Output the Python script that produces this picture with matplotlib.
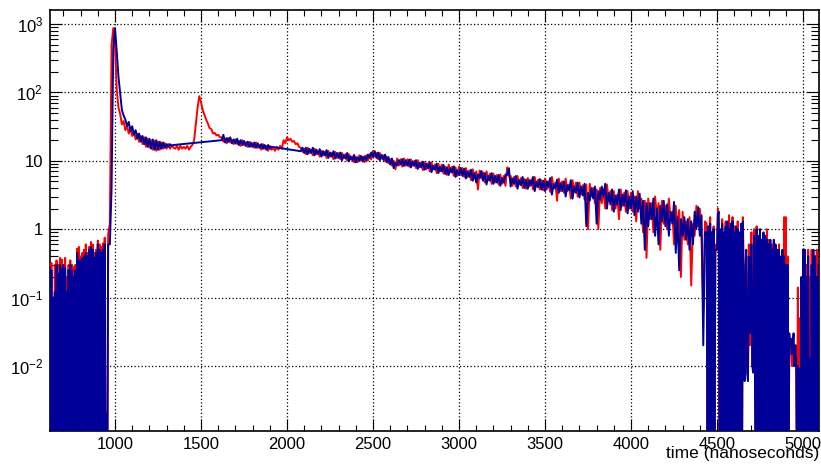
import numpy as np
import matplotlib.pyplot as plt
from matplotlib.ticker import FixedLocator, FuncFormatter, LogLocator, MultipleLocator

plt.rcParams['font.family'] = ['Liberation Sans', 'DejaVu Sans']
plt.rcParams['mathtext.fontset'] = 'custom'
plt.rcParams['mathtext.rm'] = 'Liberation Sans'
plt.rcParams['mathtext.it'] = 'Liberation Sans:italic'

# time grid of each stretch of the spectrum (ns)
pre_t = np.arange(620, 961, 5)          # sparse bins before the pulse
main_t = np.arange(970, 1341, 10)
after_t = np.arange(1350, 1611, 10)     # red only (afterpulse at 1500)
mid_t = np.arange(1620, 1901, 20)
bump_t = np.arange(1920, 2061, 20)      # red only (bump at 2000)
tail_t = np.arange(2080, 4281, 20)
late_t = np.arange(4300, 4431, 10)
end_t = np.arange(4440, 5091, 5)        # sparse bins at the end

# counts
red_pre_tops = [0.3, 0.32, 0.05, 0.3, 0.35, 0.3, 0.38, 0.36, 0.3, 0.38, 0.2, 0.3,
                0.35, 0.3, 0.28, 0.3, 0.52, 0.55, 0.4, 0.45, 0.5, 0.6, 0.45, 0.55,
                0.65, 0.6, 0.45, 0.5, 0.68, 0.6, 0.55, 0.62, 0.75, 0.002, 0.85]
blue_pre_tops = [0.28, 0.25, 0.1, 0.12, 0.3, 0.22, 0.3, 0.26, 0.3, 0.27, 0.12, 0.25,
                 0.3, 0.25, 0.2, 0.25, 0.45, 0.35, 0.35, 0.38, 0.4, 0.45, 0.4, 0.5,
                 0.55, 0.5, 0.38, 0.45, 0.6, 0.5, 0.45, 0.5, 0.6, 0.002, 0.6]

red_main = [1.2, 500, 870, 500, 110, 60, 48, 34, 38, 28,
            33, 25, 30, 23, 27, 20.5, 25, 19, 23, 17.5,
            22, 16, 21, 15.5, 20, 14.5, 19.5, 14, 19, 14.5,
            18.5, 15, 18, 15, 17.5, 15, 17, 15.5]
blue_main = [0.6, 4, 450, 870, 400, 170, 95, 55, 46, 40,
             32, 37, 27, 32, 24, 28, 21, 25, 19, 23,
             17.5, 22, 16, 21, 15, 20.5, 14.5, 20, 14.5, 19,
             15, 18.5, 15.5, 17.5, 16, 17.5, 16.5, 17]

red_after = [15, 16.5, 14.5, 16.5, 15, 16, 15, 16.5, 14.5, 16,
             17, 20, 35, 60, 88, 72, 55, 47, 40, 35,
             30, 29, 25, 25.5, 23.5, 24, 22]

red_mid_hi = [22, 21, 21.5, 20, 20.5, 19.5, 20, 18.5, 19, 18, 18.5, 17, 17.5, 16.5, 16.5]
red_mid_lo = [19, 18, 18.5, 17.5, 17.5, 16.5, 17, 16, 16, 15.5, 15.5, 14.5, 15, 14, 14.5]
blue_mid_hi = [24, 21.5, 22, 20.5, 21, 20, 19.5, 19, 18.5, 18.5, 18, 17.5, 17, 17, 16]
blue_mid_lo = [20, 18.5, 19, 18, 18, 17, 17, 16.5, 16, 16, 15.5, 15.5, 15, 14.5, 15]

red_bump_hi = [15.5, 16, 16.5, 20, 22, 21, 19.5, 18]
red_bump_lo = [14, 14.5, 15, 18, 20, 19, 17.5, 16]

red_tail_hi = [15.5,
               15, 15.5, 14.5, 15, 14,
               14, 13.5, 14, 13, 13.5,
               13, 13, 12.5, 12.5, 11.5,
               11.5, 12, 11.5, 12, 12.5,
               14, 13, 13, 12, 11.5,
               10.5, 10, 10.8, 10.5, 10.8,
               10.5, 10.5, 10, 10.2, 9.5,
               9.5, 9.2, 9.5, 8.8, 9,
               8.8, 8.2, 8.8, 8.2, 8,
               8.2, 7.8, 7.8, 7.2, 7.5,
               7, 7.2, 6.8, 7, 6.5,
               6.5, 6.2, 6.3, 6, 8,
               6, 5.8, 6, 5.6, 5.4,
               5.6, 5.3, 5.8, 5.3, 5.2,
               5.5, 5.0, 5.8, 4.8, 5.5,
               5, 5.5, 4.5, 5.2, 4.8,
               4.8, 4.4, 4.5, 4.6, 4.0,
               3.8, 4.0, 3.8, 4.5, 3.6,
               3.6, 3.2, 3.8, 3.4, 3.6,
               3.4, 3.0, 3.6, 2.8, 2.6,
               2.8, 2.4, 3.0, 2.4, 2.6,
               2.2, 2.8, 1.8, 2.2, 1.9]
red_tail_lo = [13.5,
               12.5, 13, 12, 12.5, 11.5,
               12, 11, 11.5, 10.5, 11,
               10.5, 11, 10, 10.5, 9.5,
               9.5, 10, 9.5, 10, 10.5,
               11.5, 10.5, 10.8, 9.8, 9.2,
               8.5, 7.5, 8.5, 8.2, 8.5,
               8.2, 8.5, 7.8, 8, 7.3,
               7.5, 7, 7.5, 6.6, 7,
               6.5, 6.2, 6.8, 6, 6,
               6.2, 5.8, 5.8, 5.2, 5.5,
               3.8, 5.5, 4.8, 5.2, 4.6,
               4.8, 4.5, 4.6, 4.3, 6,
               4.3, 4.2, 4.5, 4.0, 3.9,
               4.2, 3.8, 4.2, 3.8, 3.7,
               3.8, 3.5, 4.0, 2.6, 3.6,
               3.4, 3.6, 2.8, 3.5, 3.0,
               3.2, 2.7, 1.0, 3.0, 2.4,
               1.0, 2.4, 2.0, 2.6, 1.9,
               2.0, 1.4, 2.2, 1.8, 2.0,
               1.8, 1.3, 2.0, 0.9, 0.38,
               1.4, 0.9, 1.6, 0.5, 1.2,
               1.0, 1.4, 0.6, 1.0, 0.2]
blue_tail_lo = [13.8,
                13, 12.5, 13, 12, 12.5,
                11.5, 12, 11, 11.5, 10.8,
                11, 10.2, 10.8, 9.8, 10.2,
                9.5, 10, 9.8, 10.2, 11,
                11.5, 11, 10.2, 10.3, 9.5,
                8.8, 7.8, 8.5, 8.8, 8.4,
                8.5, 8, 8.4, 7.6, 8,
                7.4, 7.8, 6.8, 7.4, 6.6,
                7, 6.4, 6.2, 6.7, 5.8,
                6.2, 6, 5.5, 5.8, 5.1,
                4.8, 5.6, 5.1, 4.5, 5.1,
                4.6, 4.8, 4.3, 4.8, 6.2,
                4.2, 4.6, 3.9, 4.4, 4.0,
                3.9, 4.4, 3.6, 4.1, 3.8,
                3.6, 4.1, 3.2, 3.9, 3.4,
                3.6, 3.0, 3.7, 2.8, 3.4,
                2.9, 3.1, 1.1, 2.6, 2.8,
                1.2, 2.7, 3.0, 2.0, 2.3,
                1.8, 2.3, 1.9, 2.2, 1.7,
                2.0, 1.6, 1.8, 1.2, 0.5,
                1.1, 1.4, 0.8, 0.6, 1.3,
                1.1, 0.8, 1.2, 0.45, 0.25]
blue_tail_hi = [15.5,
                15.5, 15, 15.5, 14.5, 14.8,
                13.8, 14.3, 13.2, 13.8, 13,
                13.2, 12.2, 13, 11.6, 12.2,
                11.2, 11.8, 11.6, 12.3, 13.2,
                13.8, 13.2, 12.2, 12.3, 11.3,
                10.8, 9.4, 10.2, 10.6, 10.2,
                10.4, 9.8, 10.2, 9.3, 9.7,
                9.1, 9.5, 8.4, 9.1, 8.2,
                8.7, 8, 7.8, 8.3, 7.3,
                7.9, 7.7, 7, 7.4, 6.6,
                6.3, 7.1, 6.6, 6, 6.6,
                6, 6.2, 5.6, 6.3, 7.8,
                5.5, 6, 5.2, 5.8, 5.3,
                5.2, 5.8, 4.9, 5.4, 5.1,
                5, 5.6, 4.5, 5.3, 4.7,
                5, 4.4, 5.2, 4.2, 4.8,
                4.2, 4.6, 3.4, 4.0, 4.2,
                3.6, 4.2, 4.6, 3.4, 3.8,
                3.1, 3.8, 3.2, 3.7, 3.0,
                3.6, 3.0, 3.3, 2.6, 2.4,
                2.4, 2.8, 2.0, 2.2, 2.6,
                2.3, 1.8, 2.5, 1.5, 1.4]

red_late = [1.8, 0.7, 1.3, 0.6, 1.5, 0.15, 1.2, 0.8, 2.2, 1.1, 2.0, 0.7, 0.06, 1.3]
blue_late = [0.8, 1.5, 0.7, 1.4, 0.5, 1.3, 0.6, 1.8, 1.0, 2.1, 0.8, 1.6, 0.02, 0.9]

red_end = [1.2, 0, 0.8, 0, 1.5, 0, 0.7, 0, 1.1, 0, 0.5, 0.6, 0.5, 2.0, 1.2, 0,
           0.8, 0, 1.4, 0, 0.6, 0, 1.3, 0, 0.9, 0, 1.6, 0, 0.7, 0, 1.5, 0,
           1.1, 0, 0.8, 0, 1.3, 0, 0.6, 0, 1.0, 0, 1.5, 0.3, 0.01, 0.2, 0.4, 0.01,
           0.007, 0.6, 0.02, 0.3, 0.9, 0.01, 0.05, 1.0, 0.02, 0, 1.1, 0, 0.6, 0, 0.9, 0,
           0.5, 0, 0.8, 0, 0.6, 0, 1.0, 0, 0.7, 0, 0.4, 0, 0.6, 0, 0.5, 0,
           0.5, 0, 0.4, 0, 0.6, 0, 0.3, 0, 0.4, 0, 1.5, 0, 1.5, 0, 0.4, 0,
           0.02, 0.015, 0.02, 0.01, 0.012, 0.02, 0.01, 0.015, 0.02, 0, 0.14, 0, 0.05, 0, 0.14, 0,
           0.3, 0, 0.5, 0, 0.3, 0, 0.5, 0, 0.2, 0, 0.5, 0, 0.3, 0, 0.4, 0,
           0.5, 0, 0.3]
blue_end = [0.9, 0, 1.1, 0, 1.2, 0, 0.9, 0, 1.0, 0, 0.5, 0.5, 0.5, 1.6, 1.8, 0,
            1.0, 0, 1.2, 0, 0.9, 0, 1.1, 0, 1.3, 0, 1.0, 0, 1.2, 0, 1.3, 0,
            0.9, 0, 1.1, 0, 1.0, 0, 0.9, 0, 1.2, 0, 1.3, 0.05, 0.006, 0.3, 0.5, 0.008,
            0.006, 0.4, 0.03, 0.2, 0.6, 0.01, 0.008, 0.8, 0.01, 0, 1.0, 0, 0.8, 0, 1.0, 0,
            0.7, 0, 0.9, 0, 0.8, 0, 0.7, 0, 0.6, 0, 0.7, 0, 0.5, 0, 0.7, 0,
            0.6, 0, 0.5, 0, 0.5, 0, 0.4, 0, 0.5, 0, 0.4, 0, 0.3, 0, 0.3, 0,
            0.03, 0.02, 0.025, 0.015, 0.02, 0.03, 0.01, 0.02, 0.012, 0, 0.01, 0, 0.009, 0, 0.2, 0,
            0.5, 0, 0.5, 0, 0.2, 0, 0.4, 0, 0.013, 0, 0.3, 0, 0.5, 0, 0.4, 0,
            0.2, 0, 0.3]


def with_empty_bins(tops):
    # every other 5 ns bin is empty before the pulse
    out = []
    for v in tops:
        out += [v, 0]
    return out[:-1]


def zigzag(t, first, second):
    tt = np.column_stack([t, t + 10]).ravel()
    vv = np.column_stack([first, second]).ravel()
    return tt, vv


red_mid_t, red_mid = zigzag(mid_t, red_mid_hi, red_mid_lo)
blue_mid_t, blue_mid = zigzag(mid_t, blue_mid_lo, blue_mid_hi)
red_bump_t, red_bump = zigzag(bump_t, red_bump_hi, red_bump_lo)
red_tail_t, red_tail = zigzag(tail_t, red_tail_hi, red_tail_lo)
blue_tail_t, blue_tail = zigzag(tail_t, blue_tail_lo, blue_tail_hi)

red_t = np.concatenate([pre_t, main_t, after_t, red_mid_t, red_bump_t, red_tail_t, late_t, end_t])
red_y = np.concatenate([with_empty_bins(red_pre_tops), red_main, red_after, red_mid,
                        red_bump, red_tail, red_late, red_end])
blue_t = np.concatenate([pre_t, main_t, blue_mid_t, blue_tail_t, late_t, end_t])
blue_y = np.concatenate([with_empty_bins(blue_pre_tops), blue_main, blue_mid,
                         blue_tail, blue_late, blue_end])

# empty bins fall off the bottom of the log axis
red_y = np.where(red_y > 0, red_y, 1e-4)
blue_y = np.where(blue_y > 0, blue_y, 1e-4)

fig = plt.figure(figsize=(8.21, 4.68), dpi=100)
ax = fig.add_axes([0.0609, 0.0791, 0.9367, 0.8995])

ax.plot(red_t, red_y, color='#ff0000', lw=1.4, zorder=3)
ax.plot(blue_t, blue_y, color='#000099', lw=1.4, zorder=4)

ax.set_yscale('log')
ax.set_xlim(622, 5093)
ax.set_ylim(1.12e-3, 1600)

ax.xaxis.set_major_locator(MultipleLocator(500))
ax.xaxis.set_minor_locator(MultipleLocator(100))
ax.yaxis.set_major_locator(FixedLocator([1e-2, 1e-1, 1, 10, 100, 1000]))
ax.yaxis.set_minor_locator(LogLocator(base=10, subs=np.arange(2, 10)))

ylabels = {-2: r'$10^{-2}$', -1: r'$10^{-1}$', 0: '1', 1: '10', 2: r'$10^{2}$', 3: r'$10^{3}$'}
ax.yaxis.set_major_formatter(FuncFormatter(lambda v, p: ylabels.get(int(round(np.log10(v))), '')))

ax.tick_params(which='both', direction='in', top=True, right=True, width=0.8, labelsize=12)
ax.tick_params(axis='x', which='major', length=8.5, pad=4)
ax.tick_params(axis='x', which='minor', length=4.5)
ax.tick_params(axis='y', which='major', length=8.5, pad=5)
ax.tick_params(axis='y', which='minor', length=6)
for s in ax.spines.values():
    s.set_linewidth(1.2)

ax.grid(True, which='major', color='black', linestyle=(0, (1, 1.8)), lw=0.9, zorder=1)

ax.set_xlabel('time (nanoseconds)', fontsize=12.5, loc='right')
ax.xaxis.set_label_coords(1.0, -0.036)
ax.xaxis.label.set_va('top')

fig.savefig('out.png', dpi=100)
